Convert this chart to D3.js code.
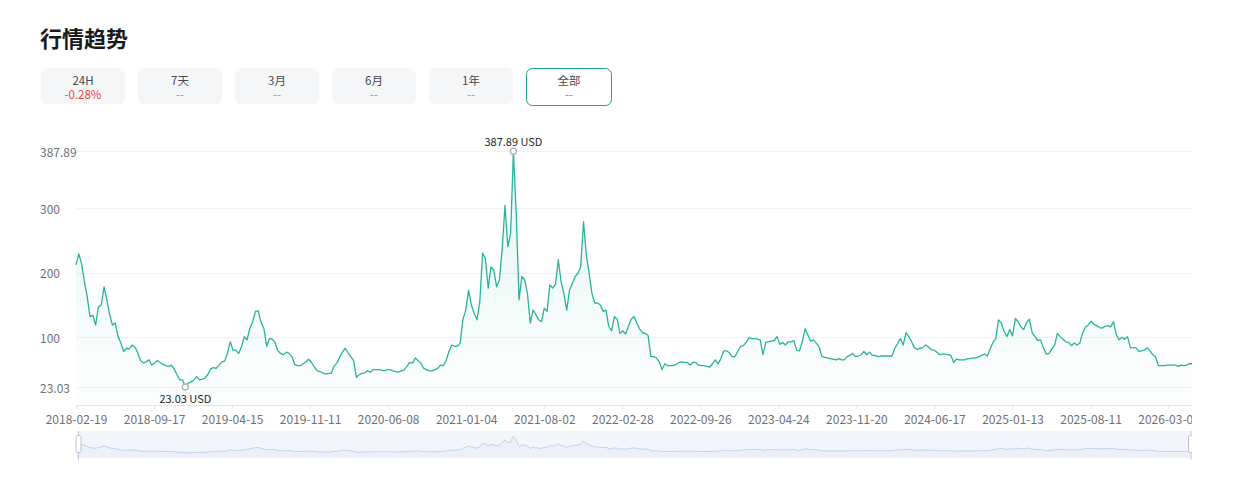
<html>

<head>
  <meta charset="utf-8">
  <script src="https://d3js.org/d3.v7.min.js"></script>
  <style>
    body {
      margin: 0;
      background: #fff;
      font-family: "Noto Sans CJK SC", "Noto Sans", sans-serif;
    }

    svg {
      display: block;
      overflow: hidden;
    }

    .yLabel,
    .x.axis text {
      fill: #6e7079;
      font-size: 12px;
    }
  </style>
</head>

<body>
  <svg id="trend" width="1192" height="497"></svg>
  <script>
    // closing price (USD), evenly spaced samples from 2018-02-19 to 2026-05-11
    const firstDay = "2018-02-19";
    const lastDay = "2026-05-11";
    const prices = [
      212, 229, 214, 186, 163, 132, 134, 119, 147, 150,
      178, 158, 135, 119, 122, 101, 91, 78, 83, 82,
      88, 85, 76, 64, 60, 62, 65, 57, 60, 64,
      61, 58, 56, 55, 57, 51, 42, 34, 34, 23.03,
      29, 31, 34, 39, 34, 35, 37, 42, 51, 53,
      52, 57, 62, 63, 75, 93, 80, 80, 75, 85,
      101, 96, 114, 124, 140, 141, 123, 114, 86, 98,
      97, 92, 79, 75, 73, 77, 75, 70, 58, 56,
      56, 59, 62, 66, 61, 54, 48, 47, 45, 43,
      44, 44, 55, 60, 69, 77, 83, 76, 70, 64,
      38, 42, 44, 45, 48, 46, 50, 50, 50, 49,
      48, 50, 50, 48, 47, 46, 48, 49, 55, 61,
      60, 68, 64, 60, 52, 50, 48, 48, 50, 52,
      57, 56, 64, 78, 88, 86, 86, 91, 128, 142,
      173, 150, 137, 127, 155, 230, 222, 176, 209, 204,
      178, 189, 238, 304, 240, 261, 387.89, 292, 158, 194,
      189, 168, 122, 142, 135, 127, 124, 145, 140, 181,
      176, 182, 220, 186, 168, 142, 173, 183, 194, 199,
      209, 279, 227, 199, 168, 153, 153, 150, 140, 142,
      117, 110, 132, 128, 106, 110, 105, 117, 128, 132,
      122, 113, 107, 106, 103, 70, 70, 68, 62, 50,
      59, 56, 56, 56, 58, 61, 62, 61, 61, 57,
      61, 61, 57, 56, 56, 55, 54, 59, 65, 59,
      67, 79, 79, 76, 70, 70, 78, 86, 87, 92,
      99, 98, 98, 97, 96, 73, 92, 93, 94, 95,
      101, 89, 92, 88, 93, 93, 95, 80, 79, 93,
      113, 104, 94, 96, 91, 85, 70, 69, 68, 67,
      66, 65, 67, 65, 65, 70, 72, 75, 70, 71,
      73, 78, 73, 77, 72, 72, 70, 71, 71, 71,
      71, 71, 83, 90, 98, 88, 107, 101, 93, 84,
      81, 83, 84, 88, 85, 81, 80, 77, 73, 74,
      74, 73, 72, 61, 66, 65, 65, 65, 67, 67,
      68, 68, 70, 72, 74, 71, 82, 92, 98, 127,
      122, 109, 101, 112, 102, 129, 124, 116, 112, 123,
      128, 107, 101, 95, 96, 84, 74, 75, 82, 88,
      106, 101, 97, 93, 92, 87, 91, 88, 91, 107,
      116, 119, 125, 120, 118, 115, 114, 117, 118, 116,
      124, 104, 96, 100, 97, 101, 84, 84, 84, 78,
      79, 80, 84, 79, 73, 70, 56, 56, 56, 57,
      57, 57, 57, 55, 57, 56, 57, 59, 59
    ];

    const xTickLabels = [
      "2018-02-19", "2018-09-17", "2019-04-15", "2019-11-11", "2020-06-08",
      "2021-01-04", "2021-08-02", "2022-02-28", "2022-09-26", "2023-04-24",
      "2023-11-20", "2024-06-17", "2025-01-13", "2025-08-11", "2026-03-09"
    ];
    const yTicks = [23.03, 100, 200, 300, 387.89];

    const periods = ["24H", "7天", "3月", "6月", "1年", "全部"];
    const changes = ["-0.28%", "--", "--", "--", "--", "--"];

    const parseDay = d3.utcParse("%Y-%m-%d");
    const fmtDay = d3.utcFormat("%Y-%m-%d");
    const t0 = parseDay(firstDay).getTime();
    const t1 = parseDay(lastDay).getTime();
    let data = prices.map((p, i) => ({
      date: new Date(t0 + (t1 - t0) * i / (prices.length - 1)),
      price: p
    }));

    let svg = d3.select("svg#trend");

    // title
    svg.append("text")
      .text("行情趋势")
      .attr("x", 40)
      .attr("y", 47)
      .style("font-size", "22px")
      .style("font-weight", "bold")
      .style("fill", "#1b1b1d");

    // period buttons
    let btnW = 84, btnH = 36, btnStep = 97;
    periods.forEach((p, k) => {
      let g = svg.append("g").attr("transform", `translate(${41 + k * btnStep}, 68)`);
      let active = k == periods.length - 1;
      g.append("rect")
        .attr("x", active ? 0.5 : 0)
        .attr("y", active ? 0.5 : 0)
        .attr("width", btnW + (active ? 1 : 0))
        .attr("height", btnH + (active ? 1 : 0))
        .attr("rx", 6)
        .attr("fill", active ? "#fff" : "#f5f6f8")
        .attr("stroke", active ? "#1ca58b" : "none");
      g.append("text")
        .text(p)
        .attr("x", btnW / 2 + (active ? 1 : 0))
        .attr("y", 11.5)
        .attr("text-anchor", "middle")
        .attr("dominant-baseline", "central")
        .style("font-size", "11.5px")
        .style("fill", "#4a4a4a");
      let c = changes[k];
      g.append("text")
        .text(c)
        .attr("x", btnW / 2 + (active ? 1 : 0))
        .attr("y", 25.5)
        .attr("text-anchor", "middle")
        .attr("dominant-baseline", "central")
        .style("font-size", "11.5px")
        .style("fill", c.startsWith("-") && c != "--" ? "#e5473b" : (active ? "#6a9c94" : "#9a9a9a"));
    });

    // main chart
    let left = 76, right = 1192;
    let xScale = d3.scaleUtc()
      .domain([new Date(t0), new Date(t1)])
      .range([left, right]);
    let yScale = d3.scaleLinear()
      .domain([-4.8, 387.89])
      .range([405, 151.2]);

    // grid lines
    svg.append("g")
      .selectAll("line")
      .data(yTicks)
      .join("line")
      .attr("x1", left)
      .attr("x2", right)
      .attr("y1", d => Math.round(yScale(d)) + 0.5)
      .attr("y2", d => Math.round(yScale(d)) + 0.5)
      .attr("stroke", "#f1f2f6");

    svg.append("g")
      .selectAll("text")
      .data(yTicks)
      .join("text")
      .attr("class", "yLabel")
      .attr("x", 40)
      .attr("y", d => yScale(d))
      .attr("dominant-baseline", "central")
      .text(d => d3.format(",")(d));

    // area + line
    let grad = svg.append("defs").append("linearGradient")
      .attr("id", "areaGrad")
      .attr("x1", 0).attr("y1", 0).attr("x2", 0).attr("y2", 1);
    grad.append("stop").attr("offset", "0%").attr("stop-color", "#2ab59a").attr("stop-opacity", 0.12);
    grad.append("stop").attr("offset", "100%").attr("stop-color", "#2ab59a").attr("stop-opacity", 0.01);

    let area = d3.area()
      .x(d => xScale(d.date))
      .y0(yScale(-4.8))
      .y1(d => yScale(d.price));
    svg.append("path")
      .datum(data)
      .attr("d", area)
      .attr("fill", "url(#areaGrad)");

    let line = d3.line()
      .x(d => xScale(d.date))
      .y(d => yScale(d.price));
    svg.append("path")
      .datum(data)
      .attr("d", line)
      .attr("fill", "none")
      .attr("stroke", "#28b498")
      .attr("stroke-width", 1.3)
      .attr("stroke-linejoin", "round");

    // x axis
    let xAxis = d3.axisBottom(xScale)
      .tickValues(xTickLabels.map(parseDay))
      .tickFormat(fmtDay)
      .tickSizeInner(4)
      .tickSizeOuter(0)
      .tickPadding(6);
    let axisG = svg.append("g")
      .attr("class", "x axis")
      .attr("transform", `translate(0, ${yScale(-4.8)})`)
      .call(xAxis);
    axisG.select(".domain").attr("stroke", "#e0e6f1");
    axisG.selectAll(".tick line").attr("stroke", "#e0e6f1");
    axisG.selectAll(".tick text").style("font-family", "\"Noto Sans CJK SC\", sans-serif");

    // max / min markers
    let maxP = data.reduce((a, b) => b.price > a.price ? b : a);
    let minP = data.reduce((a, b) => b.price < a.price ? b : a);
    [maxP, minP].forEach((d, k) => {
      svg.append("circle")
        .attr("cx", xScale(d.date))
        .attr("cy", yScale(d.price))
        .attr("r", 3)
        .attr("fill", "#fff")
        .attr("stroke", "#b3b3bb")
        .attr("stroke-width", 1.3);
      svg.append("text")
        .text(`${d.price} USD`)
        .attr("x", xScale(d.date))
        .attr("y", yScale(d.price) + (k == 0 ? -10 : 11))
        .attr("text-anchor", "middle")
        .attr("dominant-baseline", "central")
        .style("font-size", "11px")
        .style("fill", "#1f1f1f");
    });

    // data zoom slider
    let sTop = 431, sBot = 458;
    svg.append("rect")
      .attr("x", 77)
      .attr("y", sTop)
      .attr("width", right - 77)
      .attr("height", sBot - sTop)
      .attr("fill", "#f3f5fb");

    let sY = d3.scaleLinear()
      .domain(d3.extent(prices))
      .range([453, 436]);
    let miniArea = d3.area()
      .x(d => xScale(d.date))
      .y0(sBot)
      .y1(d => sY(d.price));
    svg.append("path")
      .datum(data)
      .attr("d", miniArea)
      .attr("fill", "#dde4f4")
      .attr("opacity", 0.25);
    svg.append("path")
      .datum(data)
      .attr("d", d3.line().x(d => xScale(d.date)).y(d => sY(d.price)))
      .attr("fill", "none")
      .attr("stroke", "#c4d2f0")
      .attr("stroke-width", 1);

    [78.5, 1191].forEach(hx => {
      svg.append("line")
        .attr("x1", hx).attr("x2", hx)
        .attr("y1", sTop).attr("y2", sBot + 2)
        .attr("stroke", "#c3cad8");
      svg.append("rect")
        .attr("x", hx - 2.5)
        .attr("y", 435.5)
        .attr("width", 5)
        .attr("height", 17)
        .attr("rx", 2)
        .attr("fill", "#fff")
        .attr("stroke", "#b9c2d4");
    });
  </script>
</body>

</html>
